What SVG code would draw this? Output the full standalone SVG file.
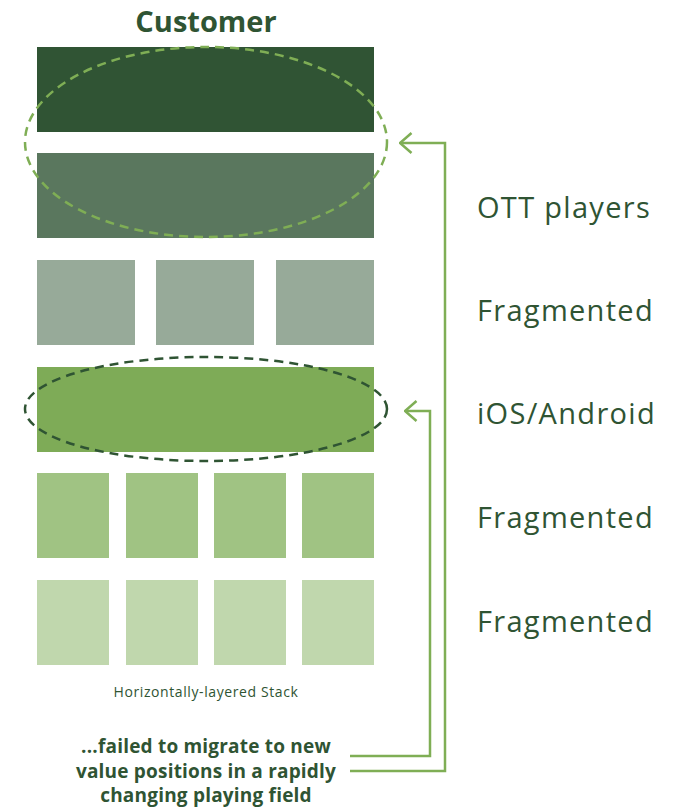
<svg xmlns="http://www.w3.org/2000/svg" width="682" height="810" viewBox="0 0 682 810">
  <style>
    .t { font-family: "Open Sans", "Liberation Sans", sans-serif; fill: #2f5433; }
    .title { font-size: 29px; font-weight: 700; text-anchor: middle; }
    .side { font-size: 29px; font-weight: 400; letter-spacing: 1.3px; }
    .cap { font-size: 14px; text-anchor: middle; letter-spacing: 0.6px; }
    .note { font-size: 19px; font-weight: 700; text-anchor: middle; letter-spacing: 0.2px; }
    .conn { fill: none; stroke: #7fae55; stroke-width: 2.5; }
  </style>
  <defs>
    <marker id="open-arrow" viewBox="0 0 14 22" refX="12.5" refY="11" markerWidth="14" markerHeight="22" markerUnits="userSpaceOnUse" orient="auto">
      <path d="M1,1 L12.5,11 L1,21" fill="none" stroke="#7fae55" stroke-width="2.5"/>
    </marker>
  </defs>

  <rect width="682" height="810" fill="#ffffff"/>

  <g id="title"><text class="t title" x="206" y="32">Customer</text></g>

  <!-- stack layers -->
  <g id="layer-1"><rect x="37" y="47" width="337" height="85" fill="#305434"/></g>
  <g id="layer-2"><rect x="37" y="153" width="337" height="85" fill="#5a775e"/></g>
  <g id="layer-3" fill="#97aa99">
    <rect x="37" y="260" width="98" height="85"/>
    <rect x="156" y="260" width="98" height="85"/>
    <rect x="276" y="260" width="98" height="85"/>
  </g>
  <g id="layer-4"><rect x="37" y="367" width="337" height="85" fill="#7eab57"/></g>
  <g id="layer-5" fill="#a0c383">
    <rect x="37" y="473" width="72" height="85"/>
    <rect x="126" y="473" width="72" height="85"/>
    <rect x="214" y="473" width="72" height="85"/>
    <rect x="302" y="473" width="72" height="85"/>
  </g>
  <g id="layer-6" fill="#c0d7ad">
    <rect x="37" y="580" width="72" height="85"/>
    <rect x="126" y="580" width="72" height="85"/>
    <rect x="214" y="580" width="72" height="85"/>
    <rect x="302" y="580" width="72" height="85"/>
  </g>

  <!-- highlight ellipses -->
  <g id="highlight-top"><ellipse cx="206" cy="142" rx="181" ry="95" fill="none" stroke="#7fae55" stroke-width="2.5" stroke-dasharray="9 6"/></g>
  <g id="highlight-mid"><ellipse cx="206" cy="409" rx="181" ry="52" fill="none" stroke="#2f5433" stroke-width="2.5" stroke-dasharray="9 6"/></g>

  <!-- layer labels -->
  <g id="labels">
    <text class="t side" x="477" y="218">OTT players</text>
    <text class="t side" x="477" y="321">Fragmented</text>
    <text class="t side" x="477" y="424">iOS/Android</text>
    <text class="t side" x="477" y="528">Fragmented</text>
    <text class="t side" x="477" y="632">Fragmented</text>
  </g>

  <g id="caption"><text class="t cap" x="206" y="697">Horizontally-layered Stack</text></g>

  <g id="note">
    <text class="t note" x="206" y="753">...failed to migrate to new</text>
    <text class="t note" x="206" y="778">value positions in a rapidly</text>
    <text class="t note" x="206" y="802">changing playing field</text>
  </g>

  <!-- connectors -->
  <g id="connectors">
    <path class="conn" d="M350,771 H445 V143 H400" marker-end="url(#open-arrow)"/>
    <path class="conn" d="M350,756 H430 V411 H405" marker-end="url(#open-arrow)"/>
  </g>
</svg>
